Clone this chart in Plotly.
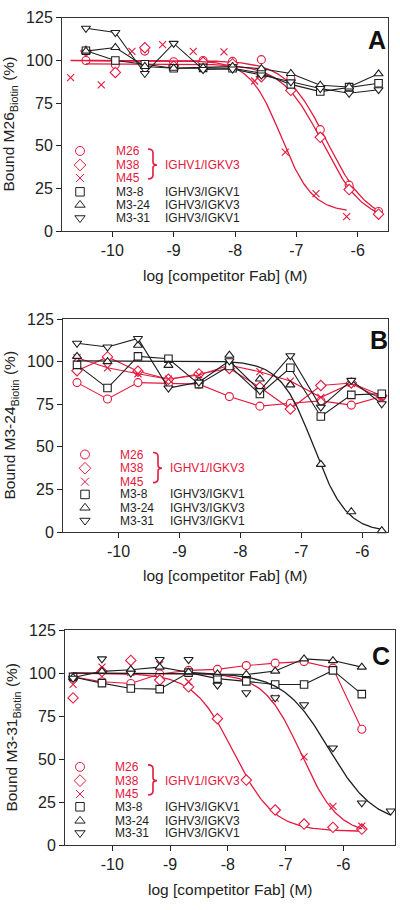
import numpy as np
import plotly.graph_objects as go

# ------------------------------------------------------------------ data
RED = "#e3193d"
BLK = "#1e1e1e"
FONT = "Liberation Sans, Arial, sans-serif"

series_names = ["M26", "M38", "M45", "M3-8", "M3-24", "M3-31"]
series_symbols = ["circle", "diamond", "x-thin-open", "square", "triangle-up", "triangle-down"]
series_colors = [RED, RED, RED, BLK, BLK, BLK]
group_labels = ["IGHV1/IGKV3", "IGHV3/IGKV1", "IGHV3/IGKV3", "IGHV3/IGKV1"]

y_tick_values = [0, 25, 50, 75, 100, 125]
x_tick_values = [-10, -9, -8, -7, -6]
x_tick_labels = ["-10", "-9", "-8", "-7", "-6"]

# Panel A (competition with M26-biotin)
xA_main = [-10.43, -9.95, -9.47, -9.00, -8.52, -8.04, -7.57, -7.09, -6.61, -6.14, -5.66]
xA_m45 = [-10.68, -10.18, -9.68, -9.18, -8.68, -8.18, -7.68, -7.18, -6.68, -6.18]
A_M26 = [100, 97.5, 105.5, 99.3, 100, 99.5, 100.5, 89.5, 59.5, 27, 11.6]
A_M38 = [105.5, 93, 107.5, 96.8, 99, 98, 90.5, 82.5, 55, 24.4, 10]
A_M45 = [90, 85.7, 105.3, 109.3, 105.3, 105, 88, 46.4, 22, 8.5]
A_M3_8 = [105.7, 100, 97.8, 95.5, 95.7, 95.5, 92.6, 86, 81.8, 84.4, 86.7]
A_M3_24 = [105.5, 107.6, 96.5, 95.5, 96, 96.5, 95.2, 92.4, 85.5, 84.5, 92.2]
A_M3_31 = [118.9, 116.4, 92.4, 110, 94.7, 95, 91.5, 87.5, 83.6, 80.8, 82.9]
# fitted 4PL parameters: top, bottom, logIC50, hill
fitA_M26 = [100, 5, -6.50, 1.3]
fitA_M38 = [98, 5, -6.57, 1.3]
fitA_M45 = [100, 11, -7.25, 1.7]

# Panel B (competition with M3-24-biotin)
xB = [-10.68, -10.18, -9.68, -9.18, -8.68, -8.18, -7.68, -7.18, -6.68, -6.18, -5.68]
B_M26 = [87.7, 78.1, 87.7, 87.3, 86.8, 79.5, 73.9, 75.6, 77, 74.5, 79.5]
B_M38 = [94.7, 102.8, 94.4, 89.7, 92.8, 96, 85, 72.2, 86, 87.5, 80]
B_M45 = [102.3, 96.4, 92.9, 89.7, 92.2, 97.9, 94.1, 88.6, 79.1, 87.2, 78.1]
B_M3_8 = [98.1, 84.5, 103.1, 101.7, 86.8, 97.5, 81, 96.4, 67.8, 80.5, 81.2]
B_M3_24 = [103.1, 100, 109.6, 97.8, 88.5, 103.8, 89.8, 86.4, 39.7, 11.9, 0.8]
B_M3_31 = [110.8, 108.6, 113.6, 84.5, 88, 100.5, 83, 103.5, 73.3, 89, 75.3]
fitB_M3_24 = [100.5, 0, -6.80, 1.6]

# Panel C (competition with M3-31-biotin)
xC = [-10.68, -10.18, -9.68, -9.18, -8.68, -8.18, -7.68, -7.18, -6.68, -6.18, -5.68]
xC_m331 = [-10.68, -10.18, -9.68, -9.18, -8.68, -8.18, -7.68, -7.18, -6.68, -6.18, -5.68, -5.18]
C_M26 = [97.8, 95, 94, 99.5, 101.6, 102.2, 104.4, 105.8, 106.7, 102.9, 67.4]
C_M38 = [85.6, 101, 107.4, 96, 92, 73.5, 37.8, 20.4, 12.2, 10.3, 9.3]
C_M45 = [93.5, 103.5, 100.5, 105, 95, 99, 95.5, 85.5, 51.3, 22.5, 11]
C_M3_8 = [97.8, 94.2, 91.1, 90.7, 100.3, 96.8, 95.2, 93.4, 93.4, 101.6, 87.8]
C_M3_24 = [97.5, 101, 102, 103.5, 100.5, 99.5, 99.2, 101.2, 108.3, 107.3, 103.5]
C_M3_31 = [97, 108.3, 100, 107.9, 107.9, 93, 88.6, 85.7, 81.6, 56.5, 24.5, 19.8]
fitC_M38 = [100, 8, -7.90, 1.25]
fitC_M45 = [100, 6, -6.73, 1.35]
fitC_M3_31 = [100, 12, -6.25, 1.1]

# ------------------------------------------------------------------ layout constants (pixels)
W, H = 400, 910
panels = [
    dict(letter="A", ytitle="Bound M26<sub>Biotin</sub> (%)", box=(62, 388, 10, 227.5),
         xrange=(-10.82, -5.506), ytitle_x=10, letter_xy=(377, 32.5),
         leg=dict(mx=80, lx=116.7, gx=165.7, rows=[145.7, 160, 173.3, 187.3, 200.7, 214], bx=(148, 153, 157)),
         series=[
             (xA_main, A_M26, fitA_M26), (xA_main, A_M38, fitA_M38), (xA_m45, A_M45, fitA_M45),
             (xA_main, A_M3_8, None), (xA_main, A_M3_24, None), (xA_main, A_M3_31, None)]),
    dict(letter="B", ytitle="Bound M3-24<sub>Biotin</sub> (%)", box=(63, 388, 317, 534),
         xrange=(-10.91, -5.578), ytitle_x=11, letter_xy=(378.5, 338.5),
         leg=dict(mx=85, lx=120.7, gx=170.7, rows=[455, 469, 482.7, 495.7, 509.3, 522.3], bx=(153, 158, 162)),
         series=[
             (xB, B_M26, None), (xB, B_M38, None), (xB, B_M45, None),
             (xB, B_M3_8, None), (xB, B_M3_24, fitB_M3_24), (xB, B_M3_31, None)]),
    dict(letter="C", ytitle="Bound M3-31<sub>Biotin</sub> (%)", box=(65, 395, 634, 853),
         xrange=(-10.82, -5.105), ytitle_x=13, letter_xy=(381.3, 660.3),
         leg=dict(mx=80, lx=116, gx=165.7, rows=[773.3, 787.3, 801, 814, 828.3, 840.7], bx=(148, 153, 157)),
         series=[
             (xC, C_M26, None), (xC, C_M38, fitC_M38), (xC, C_M45, fitC_M45),
             (xC, C_M3_8, None), (xC, C_M3_24, None), (xC_m331, C_M3_31, fitC_M3_31)]),
]

marker_sizes = [8, 8, 7, 7.5, 8, 8]


def four_pl(x, top, bottom, logc, hill):
    return bottom + (top - bottom) / (1 + 10 ** ((x - logc) * hill))


fig = go.Figure()
annotations = []
shapes = []
LEG_FONT = 12
SHIFT = -3

for i, p in enumerate(panels):
    n = "" if i == 0 else str(i + 1)
    xa, ya = "x" + n, "y" + n
    l, r, t, b = p["box"]
    fig.update_layout(**{
        "xaxis" + n: dict(domain=[l / W, r / W], range=list(p["xrange"]), anchor=ya,
                          tickvals=x_tick_values, ticktext=x_tick_labels, ticks="outside",
                          ticklen=5, tickwidth=1, tickcolor="#222", showline=True, mirror=True,
                          linecolor="#333", linewidth=1, showgrid=False, zeroline=False,
                          tickfont=dict(family=FONT, size=16, color="#222")),
        "yaxis" + n: dict(domain=[1 - b / H, 1 - t / H], range=[0, 125], anchor=xa,
                          tickvals=y_tick_values, ticks="outside", ticklen=5, tickwidth=1,
                          tickcolor="#222", showline=True, mirror=True, linecolor="#333",
                          linewidth=1, showgrid=False, zeroline=False,
                          tickfont=dict(family=FONT, size=16, color="#222")),
    })
    for k in [0, 1, 2, 3, 4, 5]:
        xs, ys, fit = p["series"][k]
        col = series_colors[k]
        sym = series_symbols[k]
        mk = dict(symbol=sym, size=marker_sizes[k], color="white" if "open" not in sym else col,
                  line=dict(color=col, width=1.1))
        if fit is not None:
            xf = np.linspace(xs[0], xs[-1], 300)
            fig.add_trace(go.Scatter(x=xf, y=four_pl(xf, *fit), mode="lines",
                                     line=dict(color=col, width=1.3), xaxis=xa, yaxis=ya,
                                     showlegend=False, hoverinfo="skip"))
            fig.add_trace(go.Scatter(x=xs, y=ys, mode="markers", marker=mk, xaxis=xa, yaxis=ya,
                                     showlegend=False, cliponaxis=False))
        else:
            fig.add_trace(go.Scatter(x=xs, y=ys, mode="lines+markers", marker=mk,
                                     line=dict(color=col, width=1.1), xaxis=xa, yaxis=ya,
                                     showlegend=False, cliponaxis=False))

    # legend (pixel positions on overlay axis x4/y4)
    lg = p["leg"]
    for k in range(6):
        col = series_colors[k]
        sym = series_symbols[k]
        fig.add_trace(go.Scatter(
            x=[lg["mx"]], y=[lg["rows"][k]], mode="markers", xaxis="x4", yaxis="y4",
            marker=dict(symbol=sym, size=marker_sizes[k] + 1,
                        color="white" if "open" not in sym else col,
                        line=dict(color=col, width=1)),
            showlegend=False, hoverinfo="skip"))
        annotations.append(dict(x=lg["lx"], y=lg["rows"][k], xref="x4", yref="y4", xshift=SHIFT,
                                text=series_names[k], showarrow=False, xanchor="left",
                                yanchor="middle", font=dict(family=FONT, size=LEG_FONT, color=col)))
    annotations.append(dict(x=lg["gx"], y=lg["rows"][1], xref="x4", yref="y4", xshift=SHIFT,
                            text=group_labels[0], showarrow=False, xanchor="left",
                            yanchor="middle", font=dict(family=FONT, size=LEG_FONT, color=RED)))
    for k in range(3):
        annotations.append(dict(x=lg["gx"], y=lg["rows"][3 + k], xref="x4", yref="y4", xshift=SHIFT,
                                text=group_labels[1 + k], showarrow=False, xanchor="left",
                                yanchor="middle", font=dict(family=FONT, size=LEG_FONT, color=BLK)))
    bx0, bx1, bx2 = lg["bx"]
    yt, ym, yb = lg["rows"][0] - 2, lg["rows"][1], lg["rows"][2] + 1
    path = (f"M{bx0},{yt} Q{bx1},{yt} {bx1},{yt + 4} L{bx1},{ym - 3} Q{bx1},{ym} {bx2},{ym} "
            f"Q{bx1},{ym} {bx1},{ym + 3} L{bx1},{yb - 4} Q{bx1},{yb} {bx0},{yb}")
    shapes.append(dict(type="path", path=path, xref="x4", yref="y4",
                       line=dict(color=RED, width=1.6)))

    # titles and panel letter
    annotations.append(dict(x=(l + r) / 2, y=b + 44.8, xref="x4", yref="y4",
                            text="log [competitor Fab] (M)", showarrow=False,
                            xanchor="center", yanchor="middle",
                            font=dict(family=FONT, size=15.5, color="#222")))
    annotations.append(dict(x=p["ytitle_x"], y=(t + b) / 2, xref="x4", yref="y4",
                            text=p["ytitle"], showarrow=False, textangle=-90,
                            xanchor="center", yanchor="middle",
                            font=dict(family=FONT, size=15.5, color="#222")))
    annotations.append(dict(x=p["letter_xy"][0], y=p["letter_xy"][1], xref="x4", yref="y4",
                            text="<b>" + p["letter"] + "</b>", showarrow=False,
                            xanchor="center", yanchor="middle",
                            font=dict(family=FONT, size=25, color="#111")))

fig.update_layout(
    xaxis4=dict(domain=[0, 1], range=[0, W], visible=False, anchor="y4", fixedrange=True),
    yaxis4=dict(domain=[0, 1], range=[H, 0], visible=False, anchor="x4", fixedrange=True),
    width=W, height=H, margin=dict(l=0, r=0, t=0, b=0),
    paper_bgcolor="white", plot_bgcolor="rgba(0,0,0,0)",
    annotations=annotations, shapes=shapes, showlegend=False,
    font=dict(family=FONT),
)

fig.write_html("out.html", config={"displayModeBar": False},
               post_script="document.body.style.margin='0';document.body.style.overflow='hidden';")
